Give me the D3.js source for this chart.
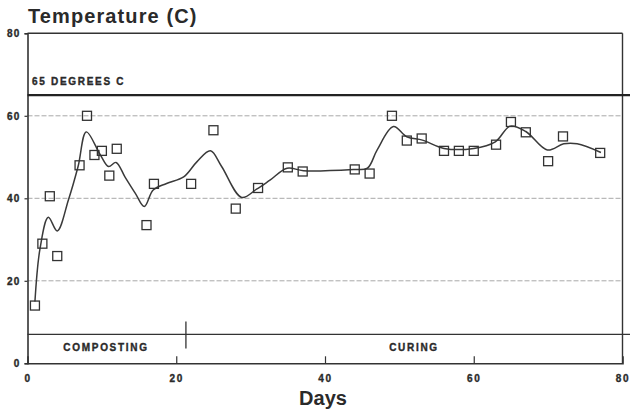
<!DOCTYPE html>
<html>
<head>
<meta charset="utf-8">
<script src="https://cdn.jsdelivr.net/npm/d3@7"></script>
<style>
  html, body { margin: 0; padding: 0; background: #ffffff; }
  svg { display: block; }
  text { font-family: "Liberation Sans", Arial, sans-serif; fill: #2a2a2a; }
  .small { stroke: #2a2a2a; stroke-width: 0.35px; }
</style>
</head>
<body>
<svg id="chart" width="630" height="414"></svg>
<script>
// ---- data ----
const days  = [1, 2, 3, 4, 7, 8, 9, 10, 11, 12, 16, 17, 22, 25, 28, 31, 35, 37, 44, 46, 49, 51, 53, 56, 58, 60, 63, 65, 67, 70, 72, 77];
const temps = [14, 29, 40.5, 26, 48, 60, 50.5, 51.5, 45.5, 52, 33.5, 43.5, 43.5, 56.5, 37.5, 42.5, 47.5, 46.5, 47, 46, 60, 54, 54.5, 51.5, 51.5, 51.5, 53, 58.5, 56, 49, 55, 51];

// smoothed trend curve
const curveDays  = [1, 1.7, 2.8, 4.0, 5.5, 6.8, 7.9, 9.8, 10.9, 11.9, 13.1, 14.5, 15.7, 16.9, 18.7, 21.0, 22.8, 24.6, 26.1, 28.8, 30.8, 32.6, 34.9, 37.1, 43.8, 45.7, 47.0, 49.2, 51.0, 53.1, 56.0, 60.0, 62.9, 64.9, 67.0, 69.9, 72.1, 73.9, 77.1];
const curveTemps = [15, 28, 35.4, 32.1, 39.6, 47.7, 56.1, 50.5, 47.7, 48.7, 45.2, 41.2, 38.0, 42.0, 43.6, 45.2, 48.9, 51.5, 47.7, 40.2, 42.2, 44.4, 47.3, 46.7, 47.0, 47.3, 51.7, 57.4, 54.9, 54.1, 52.1, 52.1, 53.7, 57.5, 56.2, 51.7, 53.2, 53.2, 51.1];

const xTicks = [0, 20, 40, 60, 80];
const yTicks = [0, 20, 40, 60, 80];
const gridValues = [20, 40, 60];
const thresholdValue = 65;
const thresholdLabel = "65 DEGREES C";
const phaseLineValue = 7;
const phaseSplitDay = 21.3;
const phases = [{name: "COMPOSTING", from: 0, to: 21.3}, {name: "CURING", from: 21.3, to: 80}];
const titleText = "Temperature (C)";
const xTitle = "Days";

// ---- drawing ----
const svg = d3.select("#chart");
const ink = "#333";
const x = d3.scaleLinear().domain([0, 80]).range([27.5, 622.5]);
const y = d3.scaleLinear().domain([0, 80]).range([363.3, 33.3]);

// gridlines
svg.append("g").selectAll("line").data(gridValues).join("line")
  .attr("x1", x(0)).attr("x2", x(80) - 2)
  .attr("y1", d => y(d)).attr("y2", d => y(d))
  .attr("stroke", "#a8a8a8").attr("stroke-width", 1)
  .attr("stroke-dasharray", "5,2");

// frame: top and right
svg.append("line").attr("x1", x(0)).attr("x2", x(80)).attr("y1", y(80)).attr("y2", y(80))
  .attr("stroke", ink).attr("stroke-width", 1.4);
svg.append("line").attr("x1", x(80)).attr("x2", x(80)).attr("y1", y(80)).attr("y2", y(0))
  .attr("stroke", ink).attr("stroke-width", 1.4);

// axes
const xAxis = d3.axisBottom(x).tickValues(xTicks).tickSize(-7).tickPadding(12).tickFormat(d3.format("d"));
const gx = svg.append("g").attr("transform", `translate(0,${y(0)})`).call(xAxis);
gx.select(".domain").attr("stroke", ink).attr("stroke-width", 1.6);
gx.selectAll(".tick line").attr("stroke", ink).attr("stroke-width", 1.2)
  .attr("display", d => (d === 0 || d === 80) ? "none" : null);
gx.selectAll(".tick text").attr("class", "small").attr("font-size", 10).attr("font-weight", "bold")
  .attr("letter-spacing", 1.6).attr("fill", "#2a2a2a").attr("font-family", "Liberation Sans, Arial, sans-serif");

const yAxis = d3.axisLeft(y).tickValues(yTicks).tickSize(3).tickPadding(4).tickFormat(d3.format("d"));
const gy = svg.append("g").attr("transform", `translate(${x(0)},0)`).call(yAxis);
gy.select(".domain").attr("stroke", ink).attr("stroke-width", 1.6);
gy.selectAll(".tick line").attr("stroke", ink).attr("stroke-width", 1.2);
gy.selectAll(".tick text").attr("class", "small").attr("font-size", 10).attr("font-weight", "bold")
  .attr("letter-spacing", 1.2).attr("fill", "#2a2a2a").attr("font-family", "Liberation Sans, Arial, sans-serif")
  .attr("dy", "0.36em");

// threshold line
svg.append("line").attr("x1", x(0)).attr("x2", 630)
  .attr("y1", y(thresholdValue)).attr("y2", y(thresholdValue))
  .attr("stroke", "#222").attr("stroke-width", 2.2);
svg.append("text").attr("class", "small").attr("x", x(0) + 4.5).attr("y", y(thresholdValue) - 10)
  .attr("font-size", 10).attr("font-weight", "bold").attr("letter-spacing", 1.7)
  .text(thresholdLabel);

// phase line and divider
svg.append("line").attr("x1", x(0)).attr("x2", 630)
  .attr("y1", y(phaseLineValue)).attr("y2", y(phaseLineValue))
  .attr("stroke", ink).attr("stroke-width", 1.3);
svg.append("line").attr("x1", x(phaseSplitDay)).attr("x2", x(phaseSplitDay))
  .attr("y1", y(phaseLineValue) - 13).attr("y2", y(phaseLineValue) + 14)
  .attr("stroke", ink).attr("stroke-width", 1.3);
svg.append("g").selectAll("text").data(phases).join("text")
  .attr("class", "small")
  .attr("x", d => d.name === "CURING" ? 414 : 106)
  .attr("y", y(phaseLineValue) + 17)
  .attr("text-anchor", "middle")
  .attr("font-size", 10).attr("font-weight", "bold").attr("letter-spacing", 1.7)
  .text(d => d.name);

// smoothed curve
const curvePts = curveDays.map((d, i) => [d, curveTemps[i]]);
svg.append("path").datum(curvePts)
  .attr("d", d3.line().x(d => x(d[0])).y(d => y(d[1])).curve(d3.curveCatmullRom.alpha(0.5)))
  .attr("fill", "none").attr("stroke", "#3a3a3a").attr("stroke-width", 1.5);

// data markers
const s = 9;
svg.append("g").selectAll("rect").data(days.map((d, i) => [d, temps[i]])).join("rect")
  .attr("x", d => x(d[0]) - s / 2).attr("y", d => y(d[1]) - s / 2)
  .attr("width", s).attr("height", s)
  .attr("fill", "none").attr("stroke", "#333").attr("stroke-width", 1.3);

// titles
svg.append("text").attr("x", 28).attr("y", 23)
  .attr("font-size", 20).attr("font-weight", "bold").attr("letter-spacing", 1.1)
  .attr("fill", "#222").text(titleText);
svg.append("text").attr("x", 323).attr("y", 405).attr("text-anchor", "middle")
  .attr("font-size", 20).attr("font-weight", "bold")
  .attr("fill", "#222").text(xTitle);
</script>
</body>
</html>
